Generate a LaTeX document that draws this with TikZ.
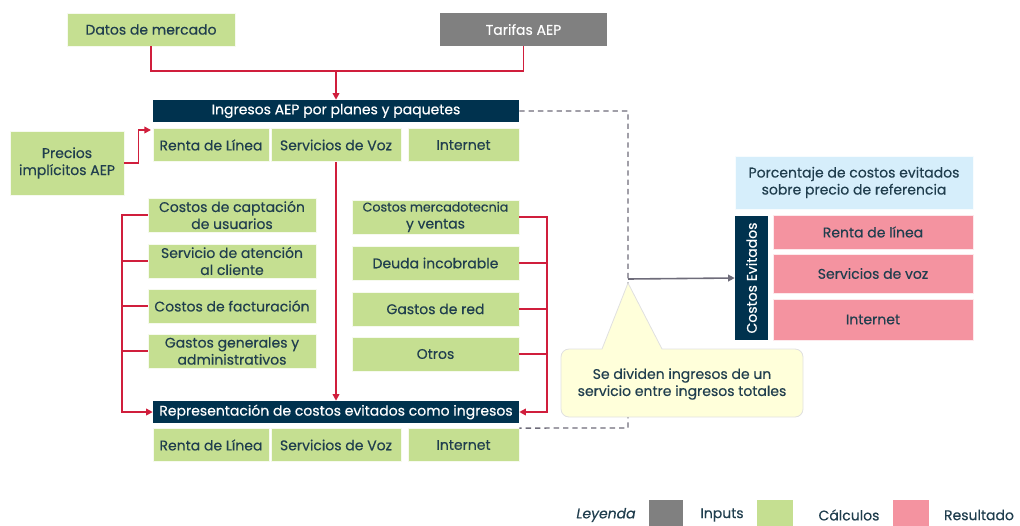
\documentclass[tikz,border=0pt]{standalone}
\usepackage{fontspec}
\setmainfont{Poppins}[FakeBold=0.35]
\usetikzlibrary{arrows.meta}

\definecolor{calcgreen}{RGB}{197,223,145}
\definecolor{inputgray}{RGB}{128,128,128}
\definecolor{barnavy}{RGB}{0,50,78}
\definecolor{respink}{RGB}{244,147,160}
\definecolor{refblue}{RGB}{214,238,251}
\definecolor{noteyellow}{RGB}{255,255,218}
\definecolor{linered}{RGB}{208,30,60}
\definecolor{dashgray}{RGB}{110,108,122}
\definecolor{txtcol}{RGB}{32,62,78}

\tikzset{
  calcbox/.style={fill=calcgreen, draw=white!85!calcgreen, line width=0.6pt},
  inputbox/.style={fill=inputgray, text=white},
  navybar/.style={fill=barnavy, text=white, minimum width=274.5pt, minimum height=16.5pt},
  resbox/.style={fill=respink, draw=white!80!respink, line width=0.6pt, minimum width=150pt},
  redline/.style={draw=linered, line width=1.2pt},
  redarrow/.style={redline, -{Triangle[length=5pt,width=5pt]}},
  dashline/.style={draw=dashgray, line width=1pt, dash pattern=on 4pt off 3pt},
}

\begin{document}
\begin{tikzpicture}[x=0.75pt,y=0.75pt,yscale=-1,xscale=1,
  every node/.style={font=\fontsize{10.5}{12.75}\selectfont, text=txtcol, inner sep=0pt, align=center}]
\useasboundingbox (0,0) rectangle (1020,525);

% Inputs
\node [calcbox, minimum width=126pt, minimum height=24.75pt] (datos) at (151,29.5) {Datos de mercado};
\node [inputbox, minimum width=125.25pt, minimum height=24.75pt] (tarifas) at (523.5,29.5) {Tarifas AEP};
\coordinate (join) at (336,71);

% Ingresos
\node [navybar] (ingresos) at (336,111) {Ingresos AEP por planes y paquetes};
\node [calcbox, minimum width=87pt, minimum height=24.75pt] (renta1) at (211,145) {Renta de Línea};
\node [calcbox, minimum width=97.5pt, minimum height=24.75pt] (voz1) at (336,145) {Servicios de Voz};
\node [calcbox, minimum width=83.25pt, minimum height=24.75pt] (inet1) at (463.5,145) {Internet};
\node [calcbox, minimum width=85.5pt, minimum height=48pt] (precios) at (67,163) {Precios\\implícitos AEP};
\coordinate (pin) at (151,130);

% Costos
\node [calcbox, minimum width=126pt, minimum height=25.5pt] (capt) at (232,215) {Costos de captación\\de usuarios};
\node [calcbox, minimum width=126pt, minimum height=25.5pt] (aten) at (232,261) {Servicio de atención\\al cliente};
\node [calcbox, minimum width=126pt, minimum height=25.5pt] (fact) at (232,306) {Costos de facturación};
\node [calcbox, minimum width=126pt, minimum height=25.5pt] (gral) at (232,351) {Gastos generales y\\administrativos};
\node [calcbox, minimum width=125.25pt, minimum height=25.5pt] (merc) at (435.5,217) {\fontsize{9.5}{11.5}\selectfont Costos mercadotecnia\\y ventas};
\node [calcbox, minimum width=125.25pt, minimum height=25.5pt] (deuda) at (435.5,263) {Deuda incobrable};
\node [calcbox, minimum width=125.25pt, minimum height=25.5pt] (red) at (435.5,309) {Gastos de red};
\node [calcbox, minimum width=125.25pt, minimum height=25.5pt] (otros) at (435.5,354) {Otros};
\coordinate (lb) at (122,412);
\coordinate (rb) at (547,412);

% Representacion
\node [navybar] (repres) at (336,412) {Representación de costos evitados como ingresos};
\node [calcbox, minimum width=87pt, minimum height=24.75pt] (renta2) at (211,445) {Renta de Línea};
\node [calcbox, minimum width=97.5pt, minimum height=24.75pt] (voz2) at (336,445) {Servicios de Voz};
\node [calcbox, minimum width=83.25pt, minimum height=24.75pt] (inet2) at (463.5,445) {Internet};

% Red connectors
\draw [redline] (datos.south) |- (join) -| (tarifas.south);
\draw [redarrow] (join) -- (ingresos.north);
\draw [redarrow] (precios.east) -- ++(14,0) |- (pin);
\draw [redarrow] (voz1.south) -- (repres.north);
\draw [redarrow] (capt.west) -| (lb) -- (repres.west);
\draw [redline] (aten.west) -- (aten.west -| lb);
\draw [redline] (fact.west) -- (fact.west -| lb);
\draw [redline] (gral.west) -- (gral.west -| lb);
\draw [redarrow] (merc.east) -| (rb) -- (repres.east);
\draw [redline] (deuda.east) -- (deuda.east -| rb);
\draw [redline] (red.east) -- (red.east -| rb);
\draw [redline] (otros.east) -- (otros.east -| rb);

% Result
\node [fill=refblue, draw=white!80!refblue, line width=0.6pt, minimum width=178.5pt, minimum height=39.75pt] (porc) at (854,182.5) {Porcentaje de costos evitados\\sobre precio de referencia};
\node [fill=barnavy, text=white, rotate=90, minimum width=93pt, minimum height=24.75pt] (costev) at (751.5,278) {Costos Evitados};
\node [resbox, minimum height=25.5pt] (renta3) at (873,232) {Renta de línea};
\node [resbox, minimum height=29.25pt] (voz3) at (873,273.5) {Servicios de voz};
\node [resbox, minimum height=30.75pt] (inet3) at (873,319.5) {Internet};

% Dashed split
\coordinate (dtop) at (628,111);
\coordinate (dbot) at (628,428);
\coordinate (split) at (628,279);
\draw [dashline] (ingresos.east) -- (dtop) -- (dbot) -- (inet2.north east);
\draw [draw=dashgray, line width=1.2pt, -{Triangle[length=5pt,width=5pt]}] (split) -- (costev.north);

% Callout
\draw [fill=noteyellow, draw=black!12, line width=0.6pt] (561,383) [rounded corners=6pt]-- (561,349) [sharp corners]-- (602,349) -- (628,283) -- (662,349) [rounded corners=6pt]-- (803,349) -- (803,417) -- (561,417) [sharp corners]-- cycle;
\node (note) at (682,384) {Se dividen ingresos de un\\servicio entre ingresos totales};

% Legend
\node (ley) at (606,515) {\itshape Leyenda};
\node [fill=inputgray, minimum width=25.5pt, minimum height=19.5pt, anchor=north west] (sqin) at (649,500) {};
\node (lin) at (722,515) {Inputs};
\node [fill=calcgreen, minimum width=27pt, minimum height=19.5pt, anchor=north west] (sqcalc) at (757,500) {};
\node (lcalc) at (849,515) {Cálculos};
\node [fill=respink, minimum width=27pt, minimum height=19.5pt, anchor=north west] (sqres) at (893,500) {};
\node (lres) at (979,515) {Resultado};

\end{tikzpicture}
\end{document}
